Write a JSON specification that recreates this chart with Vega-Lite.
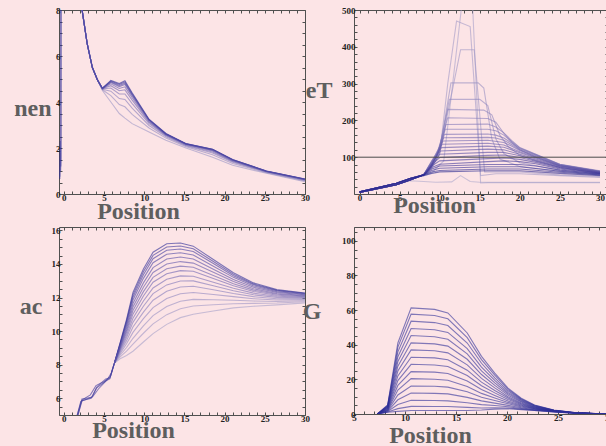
{
"$schema": "https://vega.github.io/schema/vega-lite/v6.json",
"background": "#fce4e6",
"padding": {"left": 13, "top": 5, "right": 0, "bottom": 0},
"config": {
 "view": {"stroke": "#505050", "strokeWidth": 1},
 "axis": {"domain": false, "grid": false, "tickColor": "#505050", "tickSize": -3, "labelFont": "Liberation Serif", "labelFontWeight": "bold", "labelFontSize": 9, "labelColor": "#222222", "labelPadding": 2, "labelOverlap": false, "labelFlush": false, "labelBound": false, "titleFont": "Liberation Serif", "titleFontWeight": "bold", "titleFontSize": 24, "titleColor": "#5e5e5e", "titleAngle": 0, "titleBaseline": "alphabetic", "format": "d"},
 "axisX": {"titleAlign": "center"},
 "axisY": {"titleAlign": "right"},
 "line": {"strokeWidth": 1.1, "color": "#2e2e98", "opacity": 0.6}
},
"datasets": {
"nen": [
{"s":10,"x":-0.5,"y":0.65},{"s":10,"x":-0.45,"y":2.3},{"s":10,"x":-0.4,"y":1.0},{"s":10,"x":-0.35,"y":1.6},{"s":10,"x":-0.3,"y":45},
{"s":9,"x":-0.5,"y":0.75},{"s":9,"x":-0.43,"y":1.8},{"s":9,"x":-0.38,"y":1.2},{"s":9,"x":-0.32,"y":40},
{"s":1,"x":2.1,"y":8.4},{"s":1,"x":2.9,"y":6.55},{"s":1,"x":3.55,"y":5.5},{"s":1,"x":4.2,"y":4.95},{"s":1,"x":4.8,"y":4.5},{"s":1,"x":5.85,"y":4.0},{"s":1,"x":6.9,"y":3.5},{"s":1,"x":7.6,"y":3.3},{"s":1,"x":8.5,"y":3.06},{"s":1,"x":10.6,"y":2.7},{"s":1,"x":12.7,"y":2.34},{"s":1,"x":15.2,"y":2.0},{"s":1,"x":18.5,"y":1.6},{"s":1,"x":21,"y":1.25},{"s":1,"x":25.2,"y":0.9},{"s":1,"x":30,"y":0.53},
{"s":2,"x":2.1,"y":8.4},{"s":2,"x":2.9,"y":6.55},{"s":2,"x":3.55,"y":5.5},{"s":2,"x":4.2,"y":4.95},{"s":2,"x":4.8,"y":4.53},{"s":2,"x":5.85,"y":4.28},{"s":2,"x":6.9,"y":3.89},{"s":2,"x":7.6,"y":3.79},{"s":2,"x":8.5,"y":3.46},{"s":2,"x":10.6,"y":2.87},{"s":2,"x":12.7,"y":2.43},{"s":2,"x":15.2,"y":2.06},{"s":2,"x":18.5,"y":1.71},{"s":2,"x":21,"y":1.33},{"s":2,"x":25.2,"y":0.93},{"s":2,"x":30,"y":0.57},
{"s":3,"x":2.1,"y":8.4},{"s":3,"x":2.9,"y":6.55},{"s":3,"x":3.55,"y":5.5},{"s":3,"x":4.2,"y":4.95},{"s":3,"x":4.8,"y":4.55},{"s":3,"x":5.85,"y":4.47},{"s":3,"x":6.9,"y":4.15},{"s":3,"x":7.6,"y":4.11},{"s":3,"x":8.5,"y":3.73},{"s":3,"x":10.6,"y":2.98},{"s":3,"x":12.7,"y":2.49},{"s":3,"x":15.2,"y":2.1},{"s":3,"x":18.5,"y":1.78},{"s":3,"x":21,"y":1.38},{"s":3,"x":25.2,"y":0.95},{"s":3,"x":30,"y":0.59},
{"s":4,"x":2.1,"y":8.4},{"s":4,"x":2.9,"y":6.55},{"s":4,"x":3.55,"y":5.5},{"s":4,"x":4.2,"y":4.95},{"s":4,"x":4.8,"y":4.57},{"s":4,"x":5.85,"y":4.61},{"s":4,"x":6.9,"y":4.35},{"s":4,"x":7.6,"y":4.35},{"s":4,"x":8.5,"y":3.93},{"s":4,"x":10.6,"y":3.06},{"s":4,"x":12.7,"y":2.53},{"s":4,"x":15.2,"y":2.12},{"s":4,"x":18.5,"y":1.83},{"s":4,"x":21,"y":1.41},{"s":4,"x":25.2,"y":0.97},{"s":4,"x":30,"y":0.61},
{"s":5,"x":2.1,"y":8.4},{"s":5,"x":2.9,"y":6.55},{"s":5,"x":3.55,"y":5.5},{"s":5,"x":4.2,"y":4.95},{"s":5,"x":4.8,"y":4.58},{"s":5,"x":5.85,"y":4.71},{"s":5,"x":6.9,"y":4.49},{"s":5,"x":7.6,"y":4.53},{"s":5,"x":8.5,"y":4.08},{"s":5,"x":10.6,"y":3.12},{"s":5,"x":12.7,"y":2.56},{"s":5,"x":15.2,"y":2.14},{"s":5,"x":18.5,"y":1.87},{"s":5,"x":21,"y":1.44},{"s":5,"x":25.2,"y":0.98},{"s":5,"x":30,"y":0.62},
{"s":6,"x":2.1,"y":8.4},{"s":6,"x":2.9,"y":6.55},{"s":6,"x":3.55,"y":5.5},{"s":6,"x":4.2,"y":4.95},{"s":6,"x":4.8,"y":4.58},{"s":6,"x":5.85,"y":4.79},{"s":6,"x":6.9,"y":4.59},{"s":6,"x":7.6,"y":4.66},{"s":6,"x":8.5,"y":4.19},{"s":6,"x":10.6,"y":3.16},{"s":6,"x":12.7,"y":2.58},{"s":6,"x":15.2,"y":2.16},{"s":6,"x":18.5,"y":1.89},{"s":6,"x":21,"y":1.46},{"s":6,"x":25.2,"y":0.98},{"s":6,"x":30,"y":0.63},
{"s":7,"x":2.1,"y":8.4},{"s":7,"x":2.9,"y":6.55},{"s":7,"x":3.55,"y":5.5},{"s":7,"x":4.2,"y":4.95},{"s":7,"x":4.8,"y":4.59},{"s":7,"x":5.85,"y":4.85},{"s":7,"x":6.9,"y":4.67},{"s":7,"x":7.6,"y":4.76},{"s":7,"x":8.5,"y":4.27},{"s":7,"x":10.6,"y":3.2},{"s":7,"x":12.7,"y":2.6},{"s":7,"x":15.2,"y":2.17},{"s":7,"x":18.5,"y":1.92},{"s":7,"x":21,"y":1.48},{"s":7,"x":25.2,"y":0.99},{"s":7,"x":30,"y":0.64},
{"s":8,"x":2.1,"y":8.4},{"s":8,"x":2.9,"y":6.55},{"s":8,"x":3.55,"y":5.5},{"s":8,"x":4.2,"y":4.95},{"s":8,"x":4.8,"y":4.59},{"s":8,"x":5.85,"y":4.88},{"s":8,"x":6.9,"y":4.72},{"s":8,"x":7.6,"y":4.82},{"s":8,"x":8.5,"y":4.32},{"s":8,"x":10.6,"y":3.22},{"s":8,"x":12.7,"y":2.61},{"s":8,"x":15.2,"y":2.18},{"s":8,"x":18.5,"y":1.93},{"s":8,"x":21,"y":1.49},{"s":8,"x":25.2,"y":0.99},{"s":8,"x":30,"y":0.64},
{"s":9,"x":2.1,"y":8.4},{"s":9,"x":2.9,"y":6.55},{"s":9,"x":3.55,"y":5.5},{"s":9,"x":4.2,"y":4.95},{"s":9,"x":4.8,"y":4.6},{"s":9,"x":5.85,"y":4.91},{"s":9,"x":6.9,"y":4.76},{"s":9,"x":7.6,"y":4.87},{"s":9,"x":8.5,"y":4.36},{"s":9,"x":10.6,"y":3.23},{"s":9,"x":12.7,"y":2.62},{"s":9,"x":15.2,"y":2.18},{"s":9,"x":18.5,"y":1.94},{"s":9,"x":21,"y":1.49},{"s":9,"x":25.2,"y":1.0},{"s":9,"x":30,"y":0.65},
{"s":10,"x":2.1,"y":8.4},{"s":10,"x":2.9,"y":6.55},{"s":10,"x":3.55,"y":5.5},{"s":10,"x":4.2,"y":4.95},{"s":10,"x":4.8,"y":4.6},{"s":10,"x":5.85,"y":4.94},{"s":10,"x":6.9,"y":4.8},{"s":10,"x":7.6,"y":4.92},{"s":10,"x":8.5,"y":4.4},{"s":10,"x":10.6,"y":3.25},{"s":10,"x":12.7,"y":2.63},{"s":10,"x":15.2,"y":2.19},{"s":10,"x":18.5,"y":1.95},{"s":10,"x":21,"y":1.5},{"s":10,"x":25.2,"y":1.0},{"s":10,"x":30,"y":0.65}
],
"eT": [
{"s":1,"x":0,"y":4},{"s":1,"x":4.6,"y":25},{"s":1,"x":6.3,"y":36},{"s":1,"x":8,"y":34},{"s":1,"x":9.5,"y":32},{"s":1,"x":11.5,"y":33},{"s":1,"x":12.6,"y":50},{"s":1,"x":13.8,"y":34},{"s":1,"x":15,"y":32},{"s":1,"x":30,"y":32},
{"s":2,"x":0,"y":6},{"s":2,"x":4.6,"y":29},{"s":2,"x":6.3,"y":42},{"s":2,"x":8,"y":50},{"s":2,"x":9,"y":58},{"s":2,"x":10.5,"y":90},{"s":2,"x":13,"y":560},{"s":2,"x":14,"y":560},{"s":2,"x":15.1,"y":30},{"s":2,"x":16,"y":31},{"s":2,"x":30,"y":31},
{"s":3,"x":0,"y":4},{"s":3,"x":4.6,"y":25},{"s":3,"x":6.3,"y":38},{"s":3,"x":8,"y":52},{"s":3,"x":9,"y":70},{"s":3,"x":10,"y":110},{"s":3,"x":11,"y":300},{"s":3,"x":12.1,"y":470},{"s":3,"x":13.8,"y":455},{"s":3,"x":15.1,"y":50},{"s":3,"x":17,"y":55},{"s":3,"x":20,"y":55},{"s":3,"x":25,"y":50},{"s":3,"x":30,"y":45},
{"s":4,"x":0,"y":6},{"s":4,"x":4.6,"y":29},{"s":4,"x":6.3,"y":42},{"s":4,"x":8,"y":52},{"s":4,"x":9,"y":75},{"s":4,"x":10,"y":110},{"s":4,"x":11,"y":220},{"s":4,"x":12.6,"y":392},{"s":4,"x":14.3,"y":392},{"s":4,"x":15.6,"y":60},{"s":4,"x":17,"y":60},{"s":4,"x":20,"y":60},{"s":4,"x":25,"y":52},{"s":4,"x":30,"y":47},
{"s":5,"x":0,"y":4},{"s":5,"x":4.6,"y":25},{"s":5,"x":6.3,"y":38},{"s":5,"x":8,"y":52},{"s":5,"x":9,"y":80},{"s":5,"x":10,"y":120},{"s":5,"x":11.4,"y":302},{"s":5,"x":14.8,"y":302},{"s":5,"x":15.5,"y":288},{"s":5,"x":16.5,"y":150},{"s":5,"x":17.5,"y":95},{"s":5,"x":20,"y":75},{"s":5,"x":25,"y":62},{"s":5,"x":30,"y":52},
{"s":6,"x":0,"y":6},{"s":6,"x":4.6,"y":29},{"s":6,"x":6.3,"y":42},{"s":6,"x":8,"y":52},{"s":6,"x":9,"y":82},{"s":6,"x":10,"y":125},{"s":6,"x":11.2,"y":257},{"s":6,"x":15,"y":257},{"s":6,"x":16,"y":240},{"s":6,"x":17,"y":150},{"s":6,"x":18,"y":110},{"s":6,"x":20,"y":85},{"s":6,"x":25,"y":65},{"s":6,"x":30,"y":55},
{"s":7,"x":0,"y":4},{"s":7,"x":4.6,"y":25},{"s":7,"x":6.3,"y":38},{"s":7,"x":8,"y":52},{"s":7,"x":9,"y":85},{"s":7,"x":10,"y":130},{"s":7,"x":11,"y":230},{"s":7,"x":15.5,"y":228},{"s":7,"x":16.5,"y":215},{"s":7,"x":17.5,"y":160},{"s":7,"x":18.5,"y":130},{"s":7,"x":20,"y":105},{"s":7,"x":22,"y":90},{"s":7,"x":25,"y":72},{"s":7,"x":30,"y":58},
{"s":8,"x":0,"y":6},{"s":8,"x":4.6,"y":29},{"s":8,"x":6.3,"y":42},{"s":8,"x":8,"y":52},{"s":8,"x":9,"y":88},{"s":8,"x":9.8,"y":120},{"s":8,"x":11,"y":207},{"s":8,"x":16,"y":205},{"s":8,"x":17,"y":195},{"s":8,"x":18,"y":165},{"s":8,"x":19,"y":140},{"s":8,"x":20,"y":120},{"s":8,"x":22,"y":100},{"s":8,"x":25,"y":78},{"s":8,"x":30,"y":60},
{"s":9,"x":0,"y":4},{"s":9,"x":4.6,"y":25},{"s":9,"x":6.3,"y":38},{"s":9,"x":8,"y":52},{"s":9,"x":9,"y":90},{"s":9,"x":9.8,"y":115},{"s":9,"x":10.8,"y":189},{"s":9,"x":16,"y":190},{"s":9,"x":17,"y":182},{"s":9,"x":18,"y":166},{"s":9,"x":19,"y":145},{"s":9,"x":20,"y":126},{"s":9,"x":22,"y":108},{"s":9,"x":25,"y":81},{"s":9,"x":30,"y":63},
{"s":10,"x":0,"y":6},{"s":10,"x":4.6,"y":29},{"s":10,"x":6.3,"y":42},{"s":10,"x":8,"y":52},{"s":10,"x":9,"y":88},{"s":10,"x":9.7,"y":110},{"s":10,"x":10.7,"y":176},{"s":10,"x":16,"y":176},{"s":10,"x":17,"y":172},{"s":10,"x":18,"y":160},{"s":10,"x":19,"y":142},{"s":10,"x":20,"y":125},{"s":10,"x":22,"y":107},{"s":10,"x":25,"y":80},{"s":10,"x":30,"y":62},
{"s":11,"x":0,"y":4},{"s":11,"x":4.6,"y":25},{"s":11,"x":6.3,"y":38},{"s":11,"x":8,"y":52},{"s":11,"x":9,"y":86},{"s":11,"x":9.6,"y":105},{"s":11,"x":10.6,"y":162},{"s":11,"x":16,"y":163},{"s":11,"x":17,"y":160},{"s":11,"x":18,"y":152},{"s":11,"x":19,"y":138},{"s":11,"x":20,"y":123},{"s":11,"x":22,"y":106},{"s":11,"x":25,"y":80},{"s":11,"x":30,"y":62},
{"s":12,"x":0,"y":6},{"s":12,"x":4.6,"y":29},{"s":12,"x":6.3,"y":42},{"s":12,"x":8,"y":52},{"s":12,"x":9,"y":84},{"s":12,"x":9.5,"y":100},{"s":12,"x":10.5,"y":153},{"s":12,"x":16,"y":154},{"s":12,"x":17,"y":152},{"s":12,"x":18,"y":146},{"s":12,"x":19,"y":134},{"s":12,"x":20,"y":120},{"s":12,"x":22,"y":104},{"s":12,"x":25,"y":79},{"s":12,"x":30,"y":61},
{"s":13,"x":0,"y":4},{"s":13,"x":4.6,"y":25},{"s":13,"x":6.3,"y":38},{"s":13,"x":8,"y":52},{"s":13,"x":9,"y":82},{"s":13,"x":9.5,"y":98},{"s":13,"x":10.4,"y":144},{"s":13,"x":16,"y":146},{"s":13,"x":18,"y":140},{"s":13,"x":19,"y":130},{"s":13,"x":20,"y":118},{"s":13,"x":22,"y":102},{"s":13,"x":25,"y":78},{"s":13,"x":30,"y":61},
{"s":14,"x":0,"y":6},{"s":14,"x":4.6,"y":29},{"s":14,"x":6.3,"y":42},{"s":14,"x":8,"y":52},{"s":14,"x":9,"y":80},{"s":14,"x":9.4,"y":95},{"s":14,"x":10.3,"y":135},{"s":14,"x":16,"y":138},{"s":14,"x":18,"y":133},{"s":14,"x":20,"y":115},{"s":14,"x":22,"y":100},{"s":14,"x":25,"y":77},{"s":14,"x":30,"y":60},
{"s":15,"x":0,"y":4},{"s":15,"x":4.6,"y":25},{"s":15,"x":6.3,"y":38},{"s":15,"x":8,"y":52},{"s":15,"x":9,"y":78},{"s":15,"x":9.3,"y":92},{"s":15,"x":10.2,"y":126},{"s":15,"x":16,"y":130},{"s":15,"x":18,"y":127},{"s":15,"x":20,"y":112},{"s":15,"x":22,"y":98},{"s":15,"x":25,"y":76},{"s":15,"x":30,"y":60},
{"s":16,"x":0,"y":6},{"s":16,"x":4.6,"y":29},{"s":16,"x":6.3,"y":42},{"s":16,"x":8,"y":52},{"s":16,"x":9,"y":76},{"s":16,"x":9.2,"y":88},{"s":16,"x":10.1,"y":117},{"s":16,"x":16,"y":122},{"s":16,"x":18,"y":120},{"s":16,"x":20,"y":108},{"s":16,"x":22,"y":95},{"s":16,"x":25,"y":75},{"s":16,"x":30,"y":59},
{"s":17,"x":0,"y":4},{"s":17,"x":4.6,"y":25},{"s":17,"x":6.3,"y":38},{"s":17,"x":8,"y":52},{"s":17,"x":9,"y":75},{"s":17,"x":10,"y":108},{"s":17,"x":16,"y":113},{"s":17,"x":18,"y":113},{"s":17,"x":20,"y":104},{"s":17,"x":22,"y":92},{"s":17,"x":25,"y":73},{"s":17,"x":30,"y":58},
{"s":18,"x":0,"y":6},{"s":18,"x":4.6,"y":29},{"s":18,"x":6.3,"y":42},{"s":18,"x":8,"y":52},{"s":18,"x":9,"y":80},{"s":18,"x":10,"y":99},{"s":18,"x":16,"y":105},{"s":18,"x":18,"y":106},{"s":18,"x":20,"y":99},{"s":18,"x":22,"y":89},{"s":18,"x":25,"y":72},{"s":18,"x":30,"y":57},
{"s":19,"x":0,"y":4},{"s":19,"x":4.6,"y":25},{"s":19,"x":6.3,"y":38},{"s":19,"x":8,"y":52},{"s":19,"x":9,"y":76},{"s":19,"x":10,"y":90},{"s":19,"x":16,"y":96},{"s":19,"x":18,"y":98},{"s":19,"x":20,"y":94},{"s":19,"x":22,"y":86},{"s":19,"x":25,"y":70},{"s":19,"x":30,"y":57},
{"s":20,"x":0,"y":6},{"s":20,"x":4.6,"y":29},{"s":20,"x":6.3,"y":42},{"s":20,"x":8,"y":52},{"s":20,"x":9,"y":72},{"s":20,"x":10,"y":81},{"s":20,"x":16,"y":88},{"s":20,"x":18,"y":90},{"s":20,"x":20,"y":88},{"s":20,"x":22,"y":82},{"s":20,"x":25,"y":68},{"s":20,"x":30,"y":56},
{"s":21,"x":0,"y":4},{"s":21,"x":4.6,"y":25},{"s":21,"x":6.3,"y":38},{"s":21,"x":8,"y":52},{"s":21,"x":9,"y":68},{"s":21,"x":10,"y":76},{"s":21,"x":16,"y":80},{"s":21,"x":20,"y":80},{"s":21,"x":22,"y":76},{"s":21,"x":25,"y":65},{"s":21,"x":30,"y":55},
{"s":22,"x":0,"y":6},{"s":22,"x":4.6,"y":29},{"s":22,"x":6.3,"y":42},{"s":22,"x":8,"y":52},{"s":22,"x":9,"y":64},{"s":22,"x":10,"y":70},{"s":22,"x":16,"y":74},{"s":22,"x":20,"y":74},{"s":22,"x":25,"y":62},{"s":22,"x":30,"y":54},
{"s":23,"x":0,"y":4},{"s":23,"x":4.6,"y":25},{"s":23,"x":6.3,"y":38},{"s":23,"x":8,"y":52},{"s":23,"x":9,"y":60},{"s":23,"x":10,"y":64},{"s":23,"x":16,"y":68},{"s":23,"x":20,"y":68},{"s":23,"x":25,"y":59},{"s":23,"x":30,"y":52},
{"s":24,"x":0,"y":6},{"s":24,"x":4.6,"y":29},{"s":24,"x":6.3,"y":42},{"s":24,"x":8,"y":50},{"s":24,"x":9,"y":56},{"s":24,"x":10,"y":60},{"s":24,"x":16,"y":63},{"s":24,"x":20,"y":63},{"s":24,"x":25,"y":56},{"s":24,"x":30,"y":50}
],
"ac": [
{"s":15,"x":1.3,"y":4.4},{"s":15,"x":2.2,"y":5.85},{"s":15,"x":3.4,"y":6.0},{"s":15,"x":4.05,"y":6.6},{"s":15,"x":5.3,"y":7.05},{"s":15,"x":5.7,"y":7.15},
{"s":14,"x":1.4,"y":4.4},{"s":14,"x":2.3,"y":5.9},{"s":14,"x":3.3,"y":6.2},{"s":14,"x":4.0,"y":6.75},{"s":14,"x":5.0,"y":7.0},{"s":14,"x":5.8,"y":7.3},
{"s":13,"x":1.35,"y":4.4},{"s":13,"x":2.1,"y":5.8},{"s":13,"x":3.6,"y":6.1},{"s":13,"x":4.3,"y":6.55},{"s":13,"x":5.4,"y":7.1},{"s":13,"x":5.9,"y":7.5},
{"s":12,"x":1.45,"y":4.4},{"s":12,"x":2.25,"y":5.95},{"s":12,"x":3.5,"y":6.05},{"s":12,"x":4.15,"y":6.7},{"s":12,"x":5.2,"y":7.15},{"s":12,"x":5.75,"y":7.2},
{"s":1,"x":6.3,"y":8.1},{"s":1,"x":7.0,"y":8.35},{"s":1,"x":7.8,"y":8.55},{"s":1,"x":8.6,"y":8.8},{"s":1,"x":9.9,"y":9.35},{"s":1,"x":11.1,"y":9.85},{"s":1,"x":12.8,"y":10.4},{"s":1,"x":14.5,"y":10.8},{"s":1,"x":16.1,"y":11.0},{"s":1,"x":18.6,"y":11.2},{"s":1,"x":21.1,"y":11.38},{"s":1,"x":23.6,"y":11.48},{"s":1,"x":26.5,"y":11.56},{"s":1,"x":30,"y":11.68},
{"s":2,"x":6.3,"y":8.1},{"s":2,"x":7.0,"y":8.46},{"s":2,"x":7.8,"y":8.81},{"s":2,"x":8.6,"y":9.22},{"s":2,"x":9.9,"y":9.87},{"s":2,"x":11.1,"y":10.43},{"s":2,"x":12.8,"y":10.98},{"s":2,"x":14.5,"y":11.33},{"s":2,"x":16.1,"y":11.49},{"s":2,"x":18.6,"y":11.57},{"s":2,"x":21.1,"y":11.63},{"s":2,"x":23.6,"y":11.65},{"s":2,"x":26.5,"y":11.67},{"s":2,"x":30,"y":11.75},
{"s":3,"x":6.3,"y":8.1},{"s":3,"x":7.0,"y":8.56},{"s":3,"x":7.8,"y":9.02},{"s":3,"x":8.6,"y":9.57},{"s":3,"x":9.9,"y":10.31},{"s":3,"x":11.1,"y":10.92},{"s":3,"x":12.8,"y":11.46},{"s":3,"x":14.5,"y":11.78},{"s":3,"x":16.1,"y":11.89},{"s":3,"x":18.6,"y":11.87},{"s":3,"x":21.1,"y":11.84},{"s":3,"x":23.6,"y":11.79},{"s":3,"x":26.5,"y":11.76},{"s":3,"x":30,"y":11.81},
{"s":4,"x":6.3,"y":8.1},{"s":4,"x":7.0,"y":8.65},{"s":4,"x":7.8,"y":9.24},{"s":4,"x":8.6,"y":9.92},{"s":4,"x":9.9,"y":10.74},{"s":4,"x":11.1,"y":11.4},{"s":4,"x":12.8,"y":11.94},{"s":4,"x":14.5,"y":12.22},{"s":4,"x":16.1,"y":12.3},{"s":4,"x":18.6,"y":12.18},{"s":4,"x":21.1,"y":12.05},{"s":4,"x":23.6,"y":11.93},{"s":4,"x":26.5,"y":11.85},{"s":4,"x":30,"y":11.87},
{"s":5,"x":6.3,"y":8.1},{"s":5,"x":7.0,"y":8.74},{"s":5,"x":7.8,"y":9.43},{"s":5,"x":8.6,"y":10.24},{"s":5,"x":9.9,"y":11.13},{"s":5,"x":11.1,"y":11.84},{"s":5,"x":12.8,"y":12.37},{"s":5,"x":14.5,"y":12.63},{"s":5,"x":16.1,"y":12.67},{"s":5,"x":18.6,"y":12.46},{"s":5,"x":21.1,"y":12.24},{"s":5,"x":23.6,"y":12.05},{"s":5,"x":26.5,"y":11.93},{"s":5,"x":30,"y":11.92},
{"s":6,"x":6.3,"y":8.1},{"s":6,"x":7.0,"y":8.82},{"s":6,"x":7.8,"y":9.6},{"s":6,"x":8.6,"y":10.52},{"s":6,"x":9.9,"y":11.48},{"s":6,"x":11.1,"y":12.23},{"s":6,"x":12.8,"y":12.75},{"s":6,"x":14.5,"y":12.98},{"s":6,"x":16.1,"y":12.99},{"s":6,"x":18.6,"y":12.7},{"s":6,"x":21.1,"y":12.4},{"s":6,"x":23.6,"y":12.16},{"s":6,"x":26.5,"y":12.01},{"s":6,"x":30,"y":11.97},
{"s":7,"x":6.3,"y":8.1},{"s":7,"x":7.0,"y":8.88},{"s":7,"x":7.8,"y":9.75},{"s":7,"x":8.6,"y":10.76},{"s":7,"x":9.9,"y":11.79},{"s":7,"x":11.1,"y":12.57},{"s":7,"x":12.8,"y":13.09},{"s":7,"x":14.5,"y":13.29},{"s":7,"x":16.1,"y":13.27},{"s":7,"x":18.6,"y":12.91},{"s":7,"x":21.1,"y":12.55},{"s":7,"x":23.6,"y":12.26},{"s":7,"x":26.5,"y":12.07},{"s":7,"x":30,"y":12.01},
{"s":8,"x":6.3,"y":8.1},{"s":8,"x":7.0,"y":8.95},{"s":8,"x":7.8,"y":9.91},{"s":8,"x":8.6,"y":11.01},{"s":8,"x":9.9,"y":12.09},{"s":8,"x":11.1,"y":12.91},{"s":8,"x":12.8,"y":13.42},{"s":8,"x":14.5,"y":13.6},{"s":8,"x":16.1,"y":13.56},{"s":8,"x":18.6,"y":13.13},{"s":8,"x":21.1,"y":12.7},{"s":8,"x":23.6,"y":12.36},{"s":8,"x":26.5,"y":12.13},{"s":8,"x":30,"y":12.05},
{"s":9,"x":6.3,"y":8.1},{"s":9,"x":7.0,"y":9.01},{"s":9,"x":7.8,"y":10.03},{"s":9,"x":8.6,"y":11.22},{"s":9,"x":9.9,"y":12.35},{"s":9,"x":11.1,"y":13.2},{"s":9,"x":12.8,"y":13.71},{"s":9,"x":14.5,"y":13.87},{"s":9,"x":16.1,"y":13.8},{"s":9,"x":18.6,"y":13.31},{"s":9,"x":21.1,"y":12.82},{"s":9,"x":23.6,"y":12.44},{"s":9,"x":26.5,"y":12.19},{"s":9,"x":30,"y":12.09},
{"s":10,"x":6.3,"y":8.1},{"s":10,"x":7.0,"y":9.06},{"s":10,"x":7.8,"y":10.16},{"s":10,"x":8.6,"y":11.43},{"s":10,"x":9.9,"y":12.61},{"s":10,"x":11.1,"y":13.49},{"s":10,"x":12.8,"y":14.0},{"s":10,"x":14.5,"y":14.14},{"s":10,"x":16.1,"y":14.05},{"s":10,"x":18.6,"y":13.5},{"s":10,"x":21.1,"y":12.95},{"s":10,"x":23.6,"y":12.52},{"s":10,"x":26.5,"y":12.24},{"s":10,"x":30,"y":12.12},
{"s":11,"x":6.3,"y":8.1},{"s":11,"x":7.0,"y":9.12},{"s":11,"x":7.8,"y":10.29},{"s":11,"x":8.6,"y":11.64},{"s":11,"x":9.9,"y":12.87},{"s":11,"x":11.1,"y":13.78},{"s":11,"x":12.8,"y":14.29},{"s":11,"x":14.5,"y":14.41},{"s":11,"x":16.1,"y":14.29},{"s":11,"x":18.6,"y":13.68},{"s":11,"x":21.1,"y":13.07},{"s":11,"x":23.6,"y":12.61},{"s":11,"x":26.5,"y":12.3},{"s":11,"x":30,"y":12.16},
{"s":12,"x":6.3,"y":8.1},{"s":12,"x":7.0,"y":9.18},{"s":12,"x":7.8,"y":10.42},{"s":12,"x":8.6,"y":11.85},{"s":12,"x":9.9,"y":13.14},{"s":12,"x":11.1,"y":14.07},{"s":12,"x":12.8,"y":14.58},{"s":12,"x":14.5,"y":14.67},{"s":12,"x":16.1,"y":14.53},{"s":12,"x":18.6,"y":13.86},{"s":12,"x":21.1,"y":13.2},{"s":12,"x":23.6,"y":12.69},{"s":12,"x":26.5,"y":12.35},{"s":12,"x":30,"y":12.19},
{"s":13,"x":6.3,"y":8.1},{"s":13,"x":7.0,"y":9.22},{"s":13,"x":7.8,"y":10.53},{"s":13,"x":8.6,"y":12.02},{"s":13,"x":9.9,"y":13.35},{"s":13,"x":11.1,"y":14.31},{"s":13,"x":12.8,"y":14.82},{"s":13,"x":14.5,"y":14.89},{"s":13,"x":16.1,"y":14.74},{"s":13,"x":18.6,"y":14.02},{"s":13,"x":21.1,"y":13.3},{"s":13,"x":23.6,"y":12.76},{"s":13,"x":26.5,"y":12.4},{"s":13,"x":30,"y":12.22},
{"s":14,"x":6.3,"y":8.1},{"s":14,"x":7.0,"y":9.26},{"s":14,"x":7.8,"y":10.61},{"s":14,"x":8.6,"y":12.16},{"s":14,"x":9.9,"y":13.53},{"s":14,"x":11.1,"y":14.51},{"s":14,"x":12.8,"y":15.01},{"s":14,"x":14.5,"y":15.07},{"s":14,"x":16.1,"y":14.9},{"s":14,"x":18.6,"y":14.14},{"s":14,"x":21.1,"y":13.39},{"s":14,"x":23.6,"y":12.81},{"s":14,"x":26.5,"y":12.43},{"s":14,"x":30,"y":12.25},
{"s":15,"x":6.3,"y":8.1},{"s":15,"x":7.0,"y":9.3},{"s":15,"x":7.8,"y":10.7},{"s":15,"x":8.6,"y":12.3},{"s":15,"x":9.9,"y":13.7},{"s":15,"x":11.1,"y":14.7},{"s":15,"x":12.8,"y":15.2},{"s":15,"x":14.5,"y":15.25},{"s":15,"x":16.1,"y":15.06},{"s":15,"x":18.6,"y":14.26},{"s":15,"x":21.1,"y":13.47},{"s":15,"x":23.6,"y":12.87},{"s":15,"x":26.5,"y":12.47},{"s":15,"x":30,"y":12.27}
],
"G": [
{"s":16,"x":7.3,"y":0},{"s":16,"x":8.3,"y":5.2},{"s":16,"x":9.3,"y":41},{"s":16,"x":10.6,"y":61.3},{"s":16,"x":12.9,"y":60.4},{"s":16,"x":14.2,"y":58.4},{"s":16,"x":16.1,"y":46.8},{"s":16,"x":17.5,"y":33.3},{"s":16,"x":18.8,"y":23.6},{"s":16,"x":20.1,"y":14.9},{"s":16,"x":21.4,"y":9.1},{"s":16,"x":22.7,"y":5.2},{"s":16,"x":24.6,"y":2.3},{"s":16,"x":26.6,"y":0.8},{"s":16,"x":29.8,"y":0},
{"s":15,"x":7.3,"y":0},{"s":15,"x":8.3,"y":5.0},{"s":15,"x":9.3,"y":38.6},{"s":15,"x":10.6,"y":57.7},{"s":15,"x":12.9,"y":56.9},{"s":15,"x":14.2,"y":55.0},{"s":15,"x":16.1,"y":44.1},{"s":15,"x":17.5,"y":31.4},{"s":15,"x":18.8,"y":22.4},{"s":15,"x":20.1,"y":14.2},{"s":15,"x":21.4,"y":8.7},{"s":15,"x":22.7,"y":5.0},{"s":15,"x":24.6,"y":2.2},{"s":15,"x":26.6,"y":0.8},{"s":15,"x":29.8,"y":0},
{"s":14,"x":7.3,"y":0},{"s":14,"x":8.3,"y":4.7},{"s":14,"x":9.3,"y":35.9},{"s":14,"x":10.6,"y":53.6},{"s":14,"x":12.9,"y":52.8},{"s":14,"x":14.2,"y":51.1},{"s":14,"x":16.1,"y":41.0},{"s":14,"x":17.5,"y":29.3},{"s":14,"x":18.8,"y":20.9},{"s":14,"x":20.1,"y":13.4},{"s":14,"x":21.4,"y":8.2},{"s":14,"x":22.7,"y":4.8},{"s":14,"x":24.6,"y":2.2},{"s":14,"x":26.6,"y":0.8},{"s":14,"x":29.8,"y":0},
{"s":13,"x":7.3,"y":0},{"s":13,"x":8.3,"y":4.4},{"s":13,"x":9.3,"y":33.1},{"s":13,"x":10.6,"y":49.4},{"s":13,"x":12.9,"y":48.7},{"s":13,"x":14.2,"y":47.1},{"s":13,"x":16.1,"y":37.8},{"s":13,"x":17.5,"y":27.1},{"s":13,"x":18.8,"y":19.4},{"s":13,"x":20.1,"y":12.5},{"s":13,"x":21.4,"y":7.8},{"s":13,"x":22.7,"y":4.6},{"s":13,"x":24.6,"y":2.1},{"s":13,"x":26.6,"y":0.7},{"s":13,"x":29.8,"y":0},
{"s":12,"x":7.3,"y":0},{"s":12,"x":8.3,"y":4.1},{"s":12,"x":9.3,"y":30.3},{"s":12,"x":10.6,"y":45.3},{"s":12,"x":12.9,"y":44.6},{"s":12,"x":14.2,"y":43.2},{"s":12,"x":16.1,"y":34.7},{"s":12,"x":17.5,"y":24.9},{"s":12,"x":18.8,"y":18.0},{"s":12,"x":20.1,"y":11.7},{"s":12,"x":21.4,"y":7.3},{"s":12,"x":22.7,"y":4.3},{"s":12,"x":24.6,"y":2.0},{"s":12,"x":26.6,"y":0.7},{"s":12,"x":29.8,"y":0},
{"s":11,"x":7.3,"y":0},{"s":11,"x":8.3,"y":3.8},{"s":11,"x":9.3,"y":27.6},{"s":11,"x":10.6,"y":41.1},{"s":11,"x":12.9,"y":40.5},{"s":11,"x":14.2,"y":39.2},{"s":11,"x":16.1,"y":31.6},{"s":11,"x":17.5,"y":22.8},{"s":11,"x":18.8,"y":16.5},{"s":11,"x":20.1,"y":10.9},{"s":11,"x":21.4,"y":6.9},{"s":11,"x":22.7,"y":4.1},{"s":11,"x":24.6,"y":1.9},{"s":11,"x":26.6,"y":0.7},{"s":11,"x":29.8,"y":0},
{"s":10,"x":7.3,"y":0},{"s":10,"x":8.3,"y":3.5},{"s":10,"x":9.3,"y":24.8},{"s":10,"x":10.6,"y":37.0},{"s":10,"x":12.9,"y":36.5},{"s":10,"x":14.2,"y":35.3},{"s":10,"x":16.1,"y":28.4},{"s":10,"x":17.5,"y":20.6},{"s":10,"x":18.8,"y":15.1},{"s":10,"x":20.1,"y":10.0},{"s":10,"x":21.4,"y":6.4},{"s":10,"x":22.7,"y":3.9},{"s":10,"x":24.6,"y":1.9},{"s":10,"x":26.6,"y":0.7},{"s":10,"x":29.8,"y":0},
{"s":9,"x":7.3,"y":0},{"s":9,"x":8.3,"y":3.2},{"s":9,"x":9.3,"y":22.0},{"s":9,"x":10.6,"y":32.8},{"s":9,"x":12.9,"y":32.4},{"s":9,"x":14.2,"y":31.3},{"s":9,"x":16.1,"y":25.3},{"s":9,"x":17.5,"y":18.4},{"s":9,"x":18.8,"y":13.6},{"s":9,"x":20.1,"y":9.2},{"s":9,"x":21.4,"y":5.9},{"s":9,"x":22.7,"y":3.7},{"s":9,"x":24.6,"y":1.8},{"s":9,"x":26.6,"y":0.7},{"s":9,"x":29.8,"y":0},
{"s":8,"x":7.3,"y":0},{"s":8,"x":8.3,"y":2.9},{"s":8,"x":9.3,"y":19.3},{"s":8,"x":10.6,"y":28.7},{"s":8,"x":12.9,"y":28.3},{"s":8,"x":14.2,"y":27.4},{"s":8,"x":16.1,"y":22.2},{"s":8,"x":17.5,"y":16.3},{"s":8,"x":18.8,"y":12.2},{"s":8,"x":20.1,"y":8.4},{"s":8,"x":21.4,"y":5.5},{"s":8,"x":22.7,"y":3.4},{"s":8,"x":24.6,"y":1.7},{"s":8,"x":26.6,"y":0.6},{"s":8,"x":29.8,"y":0},
{"s":7,"x":7.3,"y":0},{"s":7,"x":8.3,"y":2.6},{"s":7,"x":9.3,"y":16.5},{"s":7,"x":10.6,"y":24.5},{"s":7,"x":12.9,"y":24.2},{"s":7,"x":14.2,"y":23.4},{"s":7,"x":16.1,"y":19.0},{"s":7,"x":17.5,"y":14.1},{"s":7,"x":18.8,"y":10.7},{"s":7,"x":20.1,"y":7.5},{"s":7,"x":21.4,"y":5.0},{"s":7,"x":22.7,"y":3.2},{"s":7,"x":24.6,"y":1.6},{"s":7,"x":26.6,"y":0.6},{"s":7,"x":29.8,"y":0},
{"s":6,"x":7.3,"y":0},{"s":6,"x":8.3,"y":2.3},{"s":6,"x":9.3,"y":13.8},{"s":6,"x":10.6,"y":20.4},{"s":6,"x":12.9,"y":20.1},{"s":6,"x":14.2,"y":19.5},{"s":6,"x":16.1,"y":15.9},{"s":6,"x":17.5,"y":11.9},{"s":6,"x":18.8,"y":9.3},{"s":6,"x":20.1,"y":6.7},{"s":6,"x":21.4,"y":4.6},{"s":6,"x":22.7,"y":3.0},{"s":6,"x":24.6,"y":1.5},{"s":6,"x":26.6,"y":0.6},{"s":6,"x":29.8,"y":0},
{"s":5,"x":7.3,"y":0},{"s":5,"x":8.3,"y":2.0},{"s":5,"x":9.3,"y":11.0},{"s":5,"x":10.6,"y":16.2},{"s":5,"x":12.9,"y":16.0},{"s":5,"x":14.2,"y":15.5},{"s":5,"x":16.1,"y":12.8},{"s":5,"x":17.5,"y":9.7},{"s":5,"x":18.8,"y":7.8},{"s":5,"x":20.1,"y":5.9},{"s":5,"x":21.4,"y":4.1},{"s":5,"x":22.7,"y":2.8},{"s":5,"x":24.6,"y":1.5},{"s":5,"x":26.6,"y":0.6},{"s":5,"x":29.8,"y":0},
{"s":4,"x":7.3,"y":0},{"s":4,"x":8.3,"y":1.7},{"s":4,"x":9.3,"y":8.2},{"s":4,"x":10.6,"y":12.1},{"s":4,"x":12.9,"y":11.9},{"s":4,"x":14.2,"y":11.6},{"s":4,"x":16.1,"y":9.6},{"s":4,"x":17.5,"y":7.6},{"s":4,"x":18.8,"y":6.3},{"s":4,"x":20.1,"y":5.0},{"s":4,"x":21.4,"y":3.6},{"s":4,"x":22.7,"y":2.5},{"s":4,"x":24.6,"y":1.4},{"s":4,"x":26.6,"y":0.6},{"s":4,"x":29.8,"y":0},
{"s":3,"x":7.3,"y":0},{"s":3,"x":8.3,"y":1.4},{"s":3,"x":9.3,"y":5.5},{"s":3,"x":10.6,"y":7.9},{"s":3,"x":12.9,"y":7.8},{"s":3,"x":14.2,"y":7.6},{"s":3,"x":16.1,"y":6.5},{"s":3,"x":17.5,"y":5.4},{"s":3,"x":18.8,"y":4.9},{"s":3,"x":20.1,"y":4.2},{"s":3,"x":21.4,"y":3.2},{"s":3,"x":22.7,"y":2.3},{"s":3,"x":24.6,"y":1.3},{"s":3,"x":26.6,"y":0.5},{"s":3,"x":29.8,"y":0},
{"s":2,"x":7.3,"y":0},{"s":2,"x":8.3,"y":1.2},{"s":2,"x":9.3,"y":3.1},{"s":2,"x":10.6,"y":4.4},{"s":2,"x":12.9,"y":4.3},{"s":2,"x":14.2,"y":4.3},{"s":2,"x":16.1,"y":3.8},{"s":2,"x":17.5,"y":3.5},{"s":2,"x":18.8,"y":3.6},{"s":2,"x":20.1,"y":3.5},{"s":2,"x":21.4,"y":2.8},{"s":2,"x":22.7,"y":2.1},{"s":2,"x":24.6,"y":1.2},{"s":2,"x":26.6,"y":0.5},{"s":2,"x":29.8,"y":0},
{"s":1,"x":7.3,"y":0},{"s":1,"x":8.3,"y":1.0},{"s":1,"x":9.3,"y":1.5},{"s":1,"x":10.6,"y":2.0},{"s":1,"x":12.9,"y":2.0},{"s":1,"x":14.2,"y":2.0},{"s":1,"x":16.1,"y":2.0},{"s":1,"x":17.5,"y":2.3},{"s":1,"x":18.8,"y":2.8},{"s":1,"x":20.1,"y":3.0},{"s":1,"x":21.4,"y":2.5},{"s":1,"x":22.7,"y":2.0},{"s":1,"x":24.6,"y":1.2},{"s":1,"x":26.6,"y":0.5},{"s":1,"x":29.8,"y":0}
]
},
"columns": 2,
"spacing": {"row": 33, "column": 49},
"bounds": "flush",
"resolve": {"scale": {"color": "independent"}},
"concat": [
  {"width": 246, "height": 184, "data": {"name": "nen"}, "resolve": {"axis": {"x": "independent", "y": "independent"}},
   "layer": [
    {"mark": {"type": "line", "clip": true},
     "encoding": {
      "x": {"field": "x", "type": "quantitative", "scale": {"domain": [-0.6, 30], "nice": false, "zero": false},
            "axis": {"orient": "bottom", "values": [0,1,2,3,4,5,6,7,8,9,10,11,12,13,14,15,16,17,18,19,20,21,22,23,24,25,26,27,28,29,30], "labelExpr": "datum.value % 5 === 0 ? datum.label : ''", "title": "Position", "titleX": 79, "titleY": 24}},
      "y": {"field": "y", "type": "quantitative", "scale": {"domain": [0, 8], "nice": false, "zero": false},
            "axis": {"orient": "left", "values": [0,0.5,1,1.5,2,2.5,3,3.5,4,4.5,5,5.5,6,6.5,7,7.5,8], "labelExpr": "datum.value % 2 === 0 ? datum.label : ''", "title": "nen", "titleX": -8, "titleY": 105}},
      "color": {"field": "s", "type": "quantitative", "scale": {"domain": [1, 10], "range": ["#9a94c4", "#2a2a96"]}, "legend": null},
      "detail": {"field": "s"}
     }},
    {"mark": {"type": "point", "opacity": 0, "clip": true},
     "encoding": {
      "x": {"field": "x", "type": "quantitative", "axis": {"orient": "top", "labels": false, "title": null, "values": [0,1,2,3,4,5,6,7,8,9,10,11,12,13,14,15,16,17,18,19,20,21,22,23,24,25,26,27,28,29,30]}},
      "y": {"field": "y", "type": "quantitative", "axis": {"orient": "right", "labels": false, "title": null, "values": [0,0.5,1,1.5,2,2.5,3,3.5,4,4.5,5,5.5,6,6.5,7,7.5,8]}}
     }}
   ]},
  {"width": 254, "height": 184, "resolve": {"axis": {"x": "independent", "y": "independent"}},
   "layer": [
    {"data": {"name": "eT"}, "mark": {"type": "line", "clip": true},
     "encoding": {
      "x": {"field": "x", "type": "quantitative", "scale": {"domain": [-0.7, 31], "nice": false, "zero": false},
            "axis": {"orient": "bottom", "values": [0,1,2,3,4,5,6,7,8,9,10,11,12,13,14,15,16,17,18,19,20,21,22,23,24,25,26,27,28,29,30,31], "labelExpr": "datum.value % 5 === 0 ? datum.label : ''", "title": "Position", "titleX": 80, "titleY": 18}},
      "y": {"field": "y", "type": "quantitative", "scale": {"domain": [0, 500], "nice": false, "zero": false},
            "axis": {"orient": "left", "values": [0,20,40,60,80,100,120,140,160,180,200,220,240,260,280,300,320,340,360,380,400,420,440,460,480,500], "labelExpr": "datum.value % 100 === 0 && datum.value > 0 ? datum.label : ''", "title": "eT", "titleX": -22, "titleY": 87}},
      "color": {"field": "s", "type": "quantitative", "scale": {"domain": [1, 24], "range": ["#aca6cc", "#24248e"]}, "legend": null},
      "detail": {"field": "s"}
     }},
    {"data": {"name": "eT"}, "mark": {"type": "point", "opacity": 0, "clip": true},
     "encoding": {
      "x": {"field": "x", "type": "quantitative", "axis": {"orient": "top", "labels": false, "title": null, "values": [0,1,2,3,4,5,6,7,8,9,10,11,12,13,14,15,16,17,18,19,20,21,22,23,24,25,26,27,28,29,30,31]}},
      "y": {"field": "y", "type": "quantitative", "axis": {"orient": "right", "labels": false, "title": null, "values": [0,20,40,60,80,100,120,140,160,180,200,220,240,260,280,300,320,340,360,380,400,420,440,460,480,500]}}
     }},
    {"data": {"values": [{"level": 100}]}, "mark": {"type": "rule", "color": "#4a4a4a", "strokeWidth": 1, "clip": true},
     "encoding": {"y": {"field": "level", "type": "quantitative", "axis": null}}}
   ]},
  {"width": 246, "height": 188, "data": {"name": "ac"}, "resolve": {"axis": {"x": "independent", "y": "independent"}},
   "layer": [
    {"mark": {"type": "line", "clip": true},
     "encoding": {
      "x": {"field": "x", "type": "quantitative", "scale": {"domain": [-0.6, 30], "nice": false, "zero": false},
            "axis": {"orient": "bottom", "values": [0,1,2,3,4,5,6,7,8,9,10,11,12,13,14,15,16,17,18,19,20,21,22,23,24,25,26,27,28,29,30], "labelExpr": "datum.value % 5 === 0 ? datum.label : ''", "title": "Position", "titleX": 74, "titleY": 22}},
      "y": {"field": "y", "type": "quantitative", "scale": {"domain": [5, 16.2], "nice": false, "zero": false},
            "axis": {"orient": "left", "values": [5,5.5,6,6.5,7,7.5,8,8.5,9,9.5,10,10.5,11,11.5,12,12.5,13,13.5,14,14.5,15,15.5,16], "labelExpr": "datum.value % 2 === 0 ? datum.label : ''", "title": "ac", "titleX": -17, "titleY": 86}},
      "color": {"field": "s", "type": "quantitative", "scale": {"domain": [1, 15], "range": ["#a49ec8", "#2a2a96"]}, "legend": null},
      "detail": {"field": "s"}
     }},
    {"mark": {"type": "point", "opacity": 0, "clip": true},
     "encoding": {
      "x": {"field": "x", "type": "quantitative", "axis": {"orient": "top", "labels": false, "title": null, "values": [0,1,2,3,4,5,6,7,8,9,10,11,12,13,14,15,16,17,18,19,20,21,22,23,24,25,26,27,28,29,30]}},
      "y": {"field": "y", "type": "quantitative", "axis": {"orient": "right", "labels": false, "title": null, "values": [5,5.5,6,6.5,7,7.5,8,8.5,9,9.5,10,10.5,11,11.5,12,12.5,13,13.5,14,14.5,15,15.5,16]}}
     }}
   ]},
  {"width": 255, "height": 187, "data": {"name": "G"}, "resolve": {"axis": {"x": "independent", "y": "independent"}},
   "layer": [
    {"mark": {"type": "line", "clip": true},
     "encoding": {
      "x": {"field": "x", "type": "quantitative", "scale": {"domain": [5, 30], "nice": false, "zero": false},
            "axis": {"orient": "bottom", "values": [5,6,7,8,9,10,11,12,13,14,15,16,17,18,19,20,21,22,23,24,25,26,27,28,29,30], "labelExpr": "datum.value % 5 === 0 ? datum.label : ''", "title": "Position", "titleX": 76, "titleY": 28}},
      "y": {"field": "y", "type": "quantitative", "scale": {"domain": [0, 108], "nice": false, "zero": false},
            "axis": {"orient": "left", "values": [0,5,10,15,20,25,30,35,40,45,50,55,60,65,70,75,80,85,90,95,100,105], "labelExpr": "datum.value % 20 === 0 && datum.value <= 100 ? datum.label : ''", "title": "G", "titleX": -33, "titleY": 91}},
      "detail": {"field": "s"}
     }},
    {"mark": {"type": "point", "opacity": 0, "clip": true},
     "encoding": {
      "x": {"field": "x", "type": "quantitative", "axis": {"orient": "top", "labels": false, "title": null, "values": [5,6,7,8,9,10,11,12,13,14,15,16,17,18,19,20,21,22,23,24,25,26,27,28,29,30]}},
      "y": {"field": "y", "type": "quantitative", "axis": {"orient": "right", "labels": false, "title": null, "values": [0,5,10,15,20,25,30,35,40,45,50,55,60,65,70,75,80,85,90,95,100,105]}}
     }}
   ]}
]
}
